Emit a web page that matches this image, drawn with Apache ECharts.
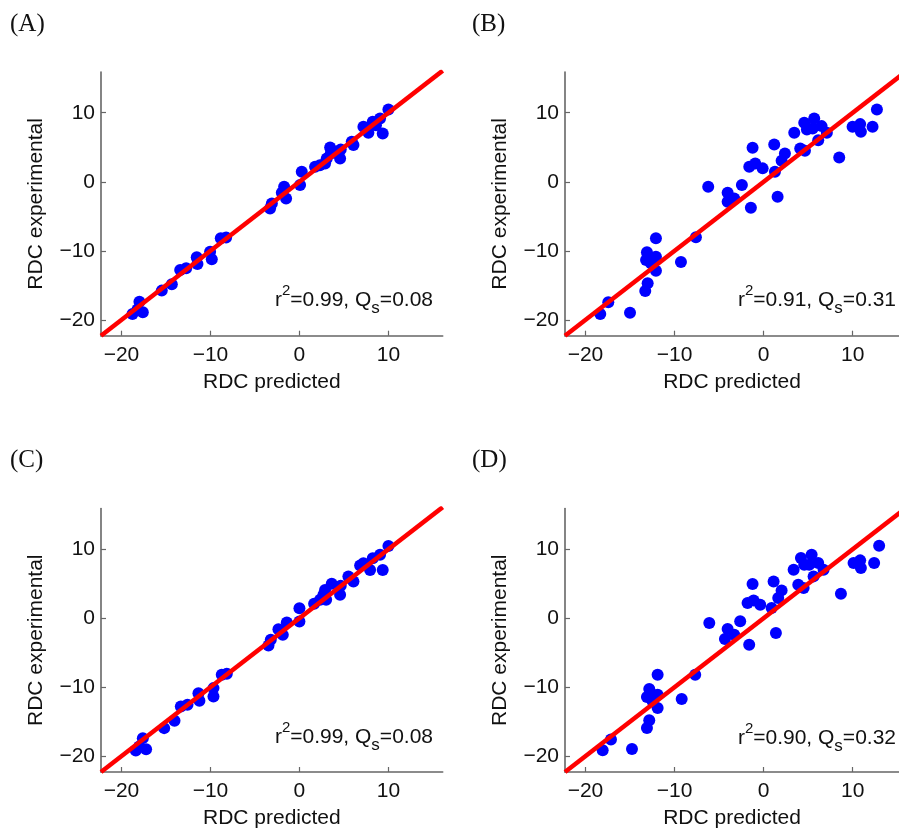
<!DOCTYPE html>
<html>
<head>
<meta charset="utf-8">
<script src="https://cdn.jsdelivr.net/npm/echarts@6/dist/echarts.min.js"></script>
<style>html,body{margin:0;padding:0;background:#fff;}#c{width:899px;height:830px;}</style>
</head>
<body>
<div id="c"></div>
<script>
// ---- data ----
var tickValues = [-20, -10, 0, 10];
var panelLabels = ['(A)', '(B)', '(C)', '(D)'];
var statLabels = [['0.99', '0.08'], ['0.91', '0.31'], ['0.99', '0.08'], ['0.90', '0.32']];
var xName = 'RDC predicted';
var yName = 'RDC experimental';

var predA = [-18.76, -17.98, -17.6, -18.2, -15.47, -14.34, -13.4, -12.73, -11.54, -11.46, -10.04, -9.85, -8.84, -8.24, -3.3, -3.1, -1.98, -1.72, -1.5, 0.07, 0.26, 1.76, 2.3, 2.88, 3.07, 3.45, 3.52, 4.57, 4.64, 5.88, 6.07, 7.19, 7.75, 8.24, 9.06, 9.36, 10.0, 8.6, 4.0];
var expA  = [-19.15, -17.37, -18.91, -18.5, -15.77, -14.86, -12.78, -12.54, -10.95, -11.92, -10.13, -11.24, -8.2, -8.06, -3.86, -3.14, -1.59, -0.72, -2.41, -0.48, 1.45, 2.17, 2.4, 2.65, 3.38, 4.97, 4.1, 3.38, 4.68, 5.79, 5.31, 7.96, 7.09, 8.68, 9.17, 7.0, 10.47, 8.2, 4.3];

var predB = [-18.34, -17.44, -15.0, -13.29, -13.02, -12.09, -13.1, -13.2, -12.84, -12.09, -12.09, -12.65, -9.28, -7.6, -6.22, -4.04, -4.04, -3.3, -2.44, -1.43, -1.61, -0.94, -0.11, -1.24, 1.19, 1.27, 1.57, 2.02, 2.39, 3.44, 4.11, 4.64, 4.56, 4.86, 5.68, 5.5, 6.13, 6.51, 7.1, 8.49, 9.99, 10.84, 10.92, 12.23, 12.72];
var expB  = [-19.15, -17.46, -18.96, -15.82, -14.71, -8.2, -10.22, -11.33, -10.85, -10.85, -12.88, -11.81, -11.62, -8.05, -0.72, -1.59, -2.89, -2.41, -0.48, -3.76, 2.17, 2.66, 1.94, 4.92, 5.41, 1.45, -2.17, 3.04, 4.1, 7.09, 4.83, 4.49, 8.54, 7.58, 9.17, 7.72, 6.03, 8.06, 7.09, 3.53, 7.96, 8.35, 7.24, 7.96, 10.48];

var predC = [-18.39, -17.6, -17.23, -18.0, -15.2, -14.04, -13.33, -12.58, -11.35, -11.24, -9.66, -9.66, -8.73, -8.16, -3.48, -3.22, -2.36, -1.42, -1.87, 0.0, 0.0, 1.65, 2.32, 2.7, 2.88, 3.63, 3.0, 4.57, 4.64, 5.5, 6.07, 6.82, 7.94, 8.24, 9.06, 9.36, 10.0, 7.19];
var expC  = [-19.18, -17.39, -18.99, -18.6, -15.94, -14.88, -12.8, -12.56, -10.87, -11.98, -10.14, -11.35, -8.21, -8.07, -3.96, -3.14, -1.59, -0.63, -2.42, -0.48, 1.45, 2.08, 2.66, 3.38, 4.1, 4.98, 2.66, 3.38, 4.69, 6.04, 5.31, 7.63, 7.0, 8.7, 9.18, 7.0, 10.48, 7.97];

var predD = [-18.07, -17.14, -14.78, -13.1, -12.84, -11.9, -12.84, -13.1, -12.46, -11.9, -11.9, -12.46, -9.2, -7.68, -6.1, -4.04, -4.34, -3.3, -2.63, -1.62, -1.8, -1.12, -0.38, -1.24, 1.12, 0.9, 1.38, 1.64, 2.02, 3.37, 3.89, 4.49, 4.19, 4.56, 5.39, 5.12, 5.61, 6.13, 6.73, 8.68, 10.1, 10.84, 10.92, 12.41, 12.97];
var expD  = [-19.16, -17.6, -18.96, -15.92, -14.81, -8.19, -10.26, -11.42, -11.09, -11.09, -13.02, -12.06, -11.71, -8.19, -0.7, -1.57, -3.01, -2.39, -0.46, -3.84, 2.2, 2.58, 1.96, 4.95, 5.33, 1.48, -2.14, 2.92, 4.03, 7.03, 4.86, 4.38, 8.72, 7.75, 9.2, 7.75, 6.06, 8.0, 7.03, 3.55, 8.0, 8.38, 7.28, 8.0, 10.51];

var identityLine = [[-22.3, -22.3], [16.1, 16.1]];

// ---- layout ----
var panels = [
  {pred: predA, exp: expA, grid: {left: 101, top: 72, width: 341.7, height: 263.7}, xMax: 16.1, lab: [10, 27], stat: [433, 300]},
  {pred: predB, exp: expB, grid: {left: 565, top: 72, width: 334, height: 263.7}, xMax: 15.2, lab: [472, 27], stat: [896, 300]},
  {pred: predC, exp: expC, grid: {left: 101, top: 508.5, width: 341.7, height: 264.2}, xMax: 16.1, lab: [10, 463], stat: [433, 737]},
  {pred: predD, exp: expD, grid: {left: 565, top: 508.5, width: 334, height: 264.2}, xMax: 15.2, lab: [472, 463], stat: [896, 738]}
];

var FONT = 'Liberation Sans, Arial, Helvetica, sans-serif';
var axisColor = '#666666';
function fmt(v) { return v < 0 ? '\u2212' + (-v) : String(v); }

var grids = [], xAxes = [], yAxes = [], series = [], graphics = [];
panels.forEach(function (p, i) {
  grids.push(Object.assign({containLabel: false}, p.grid));
  var common = {
    gridIndex: i, type: 'value',
    axisLine: {show: true, onZero: false, lineStyle: {color: axisColor, width: 1.6}},
    axisTick: {show: true, inside: true, length: 5, customValues: tickValues, lineStyle: {color: axisColor, width: 1.2}},
    splitLine: {show: false},
    nameLocation: 'middle',
    nameTextStyle: {fontFamily: FONT, fontSize: 21, color: '#111'}
  };
  xAxes.push(Object.assign({}, common, {
    min: -22.3, max: p.xMax, name: xName, nameGap: 36,
    axisLabel: {customValues: tickValues, formatter: fmt, fontFamily: FONT, fontSize: 21, color: '#111', margin: 9}
  }));
  yAxes.push(Object.assign({}, common, {
    min: -22.3, max: 15.9, name: yName, nameGap: 54,
    axisLabel: {customValues: tickValues, formatter: fmt, fontFamily: FONT, fontSize: 21, color: '#111', margin: 6}
  }));
  series.push({
    type: 'scatter', xAxisIndex: i, yAxisIndex: i,
    data: p.pred.map(function (x, k) { return [x, p.exp[k]]; }),
    symbolSize: 12, itemStyle: {color: '#0000ff', opacity: 1}, z: 2, silent: true
  });
  series.push({
    type: 'line', xAxisIndex: i, yAxisIndex: i, data: identityLine,
    showSymbol: false, symbol: 'none', clip: true,
    lineStyle: {color: '#ff0000', width: 4.5}, z: 3, silent: true
  });
  graphics.push({
    type: 'text', left: p.lab[0], top: p.lab[1] - 15,
    style: {text: panelLabels[i], font: '25px "Liberation Serif", "DejaVu Serif", serif', fill: '#111'}
  });
  graphics.push({
    type: 'text', x: p.stat[0], y: p.stat[1],
    style: {
      text: '{n|r}{sup|2}{n|=' + statLabels[i][0] + ', Q}{sub|s}{n|=' + statLabels[i][1] + '}',
      align: 'right', verticalAlign: 'middle',
      rich: {
        n: {fontFamily: FONT, fontSize: 21, lineHeight: 34, verticalAlign: 'middle', fill: '#111', color: '#111'},
        sup: {fontFamily: FONT, fontSize: 15, lineHeight: 14, verticalAlign: 'top', fill: '#111', color: '#111'},
        sub: {fontFamily: FONT, fontSize: 17, lineHeight: 16, verticalAlign: 'bottom', fill: '#111', color: '#111'}
      }
    }
  });
});

var chart = echarts.init(document.getElementById('c'), null, {renderer: 'canvas'});
chart.setOption({
  backgroundColor: '#ffffff',
  animation: false,
  grid: grids, xAxis: xAxes, yAxis: yAxes, series: series, graphic: graphics
});
</script>
</body>
</html>
